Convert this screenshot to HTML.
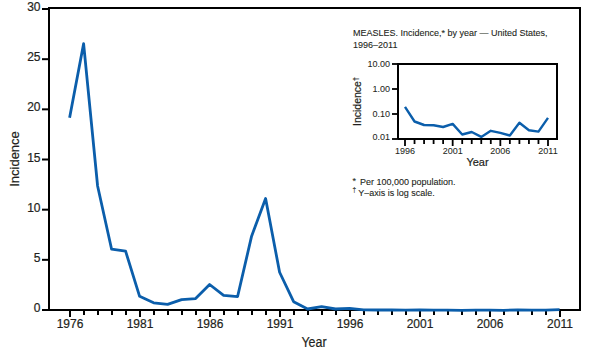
<!DOCTYPE html>
<html><head><meta charset="utf-8"><style>
html,body{margin:0;padding:0;background:#fff;}
svg{display:block;}
text{font-family:"Liberation Sans",sans-serif;fill:#231f20;stroke:#231f20;stroke-width:0.2px;}
.yl{font-size:12px;text-anchor:end;}
.xl{font-size:12px;text-anchor:middle;}
.ax{font-size:13px;text-anchor:middle;}
.ax2{font-size:14px;text-anchor:middle;}
.tt{font-size:9px;stroke-width:0.1px;}
.il{font-size:9px;text-anchor:end;stroke-width:0.05px;}
.ixl{font-size:9px;text-anchor:middle;stroke-width:0.05px;}
.iax{font-size:11px;text-anchor:middle;}
.iyl{font-size:10.5px;}
.fn{font-size:9px;stroke-width:0.1px;}
.sup{font-size:7px;}
.ast{font-size:9px;}
.dg{font-size:6.5px;}
</style></head><body>
<svg width="602" height="353" viewBox="0 0 602 353">
<path d="M49,310 V8 H580 V310 H49" fill="none" stroke="#000" stroke-width="2"/>
<line x1="42" y1="310.00" x2="49" y2="310.00" stroke="#000" stroke-width="2"/>
<text x="40.5" y="312.00" class="yl">0</text>
<line x1="42" y1="259.83" x2="49" y2="259.83" stroke="#000" stroke-width="2"/>
<text x="40.5" y="261.83" class="yl">5</text>
<line x1="42" y1="209.67" x2="49" y2="209.67" stroke="#000" stroke-width="2"/>
<text x="40.5" y="211.67" class="yl">10</text>
<line x1="42" y1="159.50" x2="49" y2="159.50" stroke="#000" stroke-width="2"/>
<text x="40.5" y="161.50" class="yl">15</text>
<line x1="42" y1="109.34" x2="49" y2="109.34" stroke="#000" stroke-width="2"/>
<text x="40.5" y="111.34" class="yl">20</text>
<line x1="42" y1="59.18" x2="49" y2="59.18" stroke="#000" stroke-width="2"/>
<text x="40.5" y="61.18" class="yl">25</text>
<line x1="42" y1="9.01" x2="49" y2="9.01" stroke="#000" stroke-width="2"/>
<text x="40.5" y="11.01" class="yl">30</text>
<line x1="70.00" y1="310" x2="70.00" y2="317" stroke="#000" stroke-width="2"/>
<text x="70.00" y="328" class="xl">1976</text>
<line x1="84.00" y1="310" x2="84.00" y2="315" stroke="#000" stroke-width="2"/>
<line x1="98.00" y1="310" x2="98.00" y2="315" stroke="#000" stroke-width="2"/>
<line x1="112.00" y1="310" x2="112.00" y2="315" stroke="#000" stroke-width="2"/>
<line x1="126.00" y1="310" x2="126.00" y2="315" stroke="#000" stroke-width="2"/>
<line x1="140.00" y1="310" x2="140.00" y2="317" stroke="#000" stroke-width="2"/>
<text x="140.00" y="328" class="xl">1981</text>
<line x1="154.00" y1="310" x2="154.00" y2="315" stroke="#000" stroke-width="2"/>
<line x1="168.00" y1="310" x2="168.00" y2="315" stroke="#000" stroke-width="2"/>
<line x1="182.00" y1="310" x2="182.00" y2="315" stroke="#000" stroke-width="2"/>
<line x1="196.00" y1="310" x2="196.00" y2="315" stroke="#000" stroke-width="2"/>
<line x1="210.00" y1="310" x2="210.00" y2="317" stroke="#000" stroke-width="2"/>
<text x="210.00" y="328" class="xl">1986</text>
<line x1="224.00" y1="310" x2="224.00" y2="315" stroke="#000" stroke-width="2"/>
<line x1="238.00" y1="310" x2="238.00" y2="315" stroke="#000" stroke-width="2"/>
<line x1="252.00" y1="310" x2="252.00" y2="315" stroke="#000" stroke-width="2"/>
<line x1="266.00" y1="310" x2="266.00" y2="315" stroke="#000" stroke-width="2"/>
<line x1="280.00" y1="310" x2="280.00" y2="317" stroke="#000" stroke-width="2"/>
<text x="280.00" y="328" class="xl">1991</text>
<line x1="294.00" y1="310" x2="294.00" y2="315" stroke="#000" stroke-width="2"/>
<line x1="308.00" y1="310" x2="308.00" y2="315" stroke="#000" stroke-width="2"/>
<line x1="322.00" y1="310" x2="322.00" y2="315" stroke="#000" stroke-width="2"/>
<line x1="336.00" y1="310" x2="336.00" y2="315" stroke="#000" stroke-width="2"/>
<line x1="350.00" y1="310" x2="350.00" y2="317" stroke="#000" stroke-width="2"/>
<text x="350.00" y="328" class="xl">1996</text>
<line x1="364.00" y1="310" x2="364.00" y2="315" stroke="#000" stroke-width="2"/>
<line x1="378.00" y1="310" x2="378.00" y2="315" stroke="#000" stroke-width="2"/>
<line x1="392.00" y1="310" x2="392.00" y2="315" stroke="#000" stroke-width="2"/>
<line x1="406.00" y1="310" x2="406.00" y2="315" stroke="#000" stroke-width="2"/>
<line x1="420.00" y1="310" x2="420.00" y2="317" stroke="#000" stroke-width="2"/>
<text x="420.00" y="328" class="xl">2001</text>
<line x1="434.00" y1="310" x2="434.00" y2="315" stroke="#000" stroke-width="2"/>
<line x1="448.00" y1="310" x2="448.00" y2="315" stroke="#000" stroke-width="2"/>
<line x1="462.00" y1="310" x2="462.00" y2="315" stroke="#000" stroke-width="2"/>
<line x1="476.00" y1="310" x2="476.00" y2="315" stroke="#000" stroke-width="2"/>
<line x1="490.00" y1="310" x2="490.00" y2="317" stroke="#000" stroke-width="2"/>
<text x="490.00" y="328" class="xl">2006</text>
<line x1="504.00" y1="310" x2="504.00" y2="315" stroke="#000" stroke-width="2"/>
<line x1="518.00" y1="310" x2="518.00" y2="315" stroke="#000" stroke-width="2"/>
<line x1="532.00" y1="310" x2="532.00" y2="315" stroke="#000" stroke-width="2"/>
<line x1="546.00" y1="310" x2="546.00" y2="315" stroke="#000" stroke-width="2"/>
<line x1="560.00" y1="310" x2="560.00" y2="317" stroke="#000" stroke-width="2"/>
<text x="560.00" y="328" class="xl">2011</text>
<polyline points="69.60,117.77 83.60,43.72 97.60,185.99 111.60,249.20 125.60,251.21 139.60,296.35 153.60,302.77 167.60,304.38 181.60,299.56 195.60,298.56 209.60,284.51 223.60,295.35 237.60,296.55 251.60,236.16 265.60,198.53 279.60,272.27 293.60,301.67 307.60,309.00 321.60,306.59 335.60,309.00 349.60,308.39 363.60,309.90 377.60,310.00 391.60,310.00 405.60,310.10 419.60,310.00 433.60,310.20 447.60,310.20 461.60,310.30 475.60,310.20 489.60,310.20 503.60,310.30 517.60,309.90 531.60,310.20 545.60,310.20 559.60,309.70" fill="none" stroke="#0b5eab" stroke-width="2.8" stroke-linejoin="round"/>
<text transform="translate(314,347) scale(0.89,1)" class="ax2">Year</text>
<text transform="translate(18.5,159) rotate(-90)" class="ax">Incidence</text>
<text x="353" y="35.7" class="tt">MEASLES. Incidence,* by year — United States,</text>
<text x="353" y="47.7" class="tt">1996–2011</text>
<path d="M398,139 V64 H557 V139 H398" fill="none" stroke="#000" stroke-width="2"/>
<line x1="392" y1="64" x2="398" y2="64" stroke="#000" stroke-width="1.8"/>
<text x="390" y="67.00" class="il">10.00</text>
<line x1="392" y1="89" x2="398" y2="89" stroke="#000" stroke-width="1.8"/>
<text x="390" y="92.00" class="il">1.00</text>
<line x1="392" y1="114" x2="398" y2="114" stroke="#000" stroke-width="1.8"/>
<text x="390" y="117.00" class="il">0.10</text>
<line x1="392" y1="139" x2="398" y2="139" stroke="#000" stroke-width="1.8"/>
<text x="390" y="139.50" class="il">0.01</text>
<line x1="405.00" y1="139" x2="405.00" y2="146" stroke="#000" stroke-width="1.8"/>
<text x="405.00" y="153.6" class="ixl">1996</text>
<line x1="414.53" y1="139" x2="414.53" y2="144" stroke="#000" stroke-width="1.8"/>
<line x1="424.07" y1="139" x2="424.07" y2="144" stroke="#000" stroke-width="1.8"/>
<line x1="433.60" y1="139" x2="433.60" y2="144" stroke="#000" stroke-width="1.8"/>
<line x1="443.13" y1="139" x2="443.13" y2="144" stroke="#000" stroke-width="1.8"/>
<line x1="452.67" y1="139" x2="452.67" y2="146" stroke="#000" stroke-width="1.8"/>
<text x="452.67" y="153.6" class="ixl">2001</text>
<line x1="462.20" y1="139" x2="462.20" y2="144" stroke="#000" stroke-width="1.8"/>
<line x1="471.73" y1="139" x2="471.73" y2="144" stroke="#000" stroke-width="1.8"/>
<line x1="481.26" y1="139" x2="481.26" y2="144" stroke="#000" stroke-width="1.8"/>
<line x1="490.80" y1="139" x2="490.80" y2="144" stroke="#000" stroke-width="1.8"/>
<line x1="500.33" y1="139" x2="500.33" y2="146" stroke="#000" stroke-width="1.8"/>
<text x="500.33" y="153.6" class="ixl">2006</text>
<line x1="509.86" y1="139" x2="509.86" y2="144" stroke="#000" stroke-width="1.8"/>
<line x1="519.40" y1="139" x2="519.40" y2="144" stroke="#000" stroke-width="1.8"/>
<line x1="528.93" y1="139" x2="528.93" y2="144" stroke="#000" stroke-width="1.8"/>
<line x1="538.46" y1="139" x2="538.46" y2="144" stroke="#000" stroke-width="1.8"/>
<line x1="548.00" y1="139" x2="548.00" y2="146" stroke="#000" stroke-width="1.8"/>
<text x="548.00" y="153.6" class="ixl">2011</text>
<polyline points="405.00,106.80 414.53,121.50 424.07,125.00 433.60,125.20 443.13,127.00 452.67,123.90 462.20,134.50 471.73,132.00 481.26,136.90 490.80,130.80 500.33,132.80 509.86,135.50 519.40,122.80 528.93,130.30 538.46,131.60 548.00,117.90" fill="none" stroke="#0b5eab" stroke-width="2.4" stroke-linejoin="round"/>
<text x="477.5" y="165.8" class="iax">Year</text>
<text transform="translate(361,126) rotate(-90)" class="iyl">Incidence<tspan class="sup" dy="-3">†</tspan></text>
<text x="352.5" y="184.9" class="fn"><tspan class="ast" dy="-1">*</tspan><tspan x="360" dy="1">Per 100,000 population.</tspan></text>
<text x="352.5" y="196.4" class="fn"><tspan class="dg" dy="-4">†</tspan><tspan x="358.3" dy="4">Y–axis is log scale.</tspan></text>
</svg></body></html>
